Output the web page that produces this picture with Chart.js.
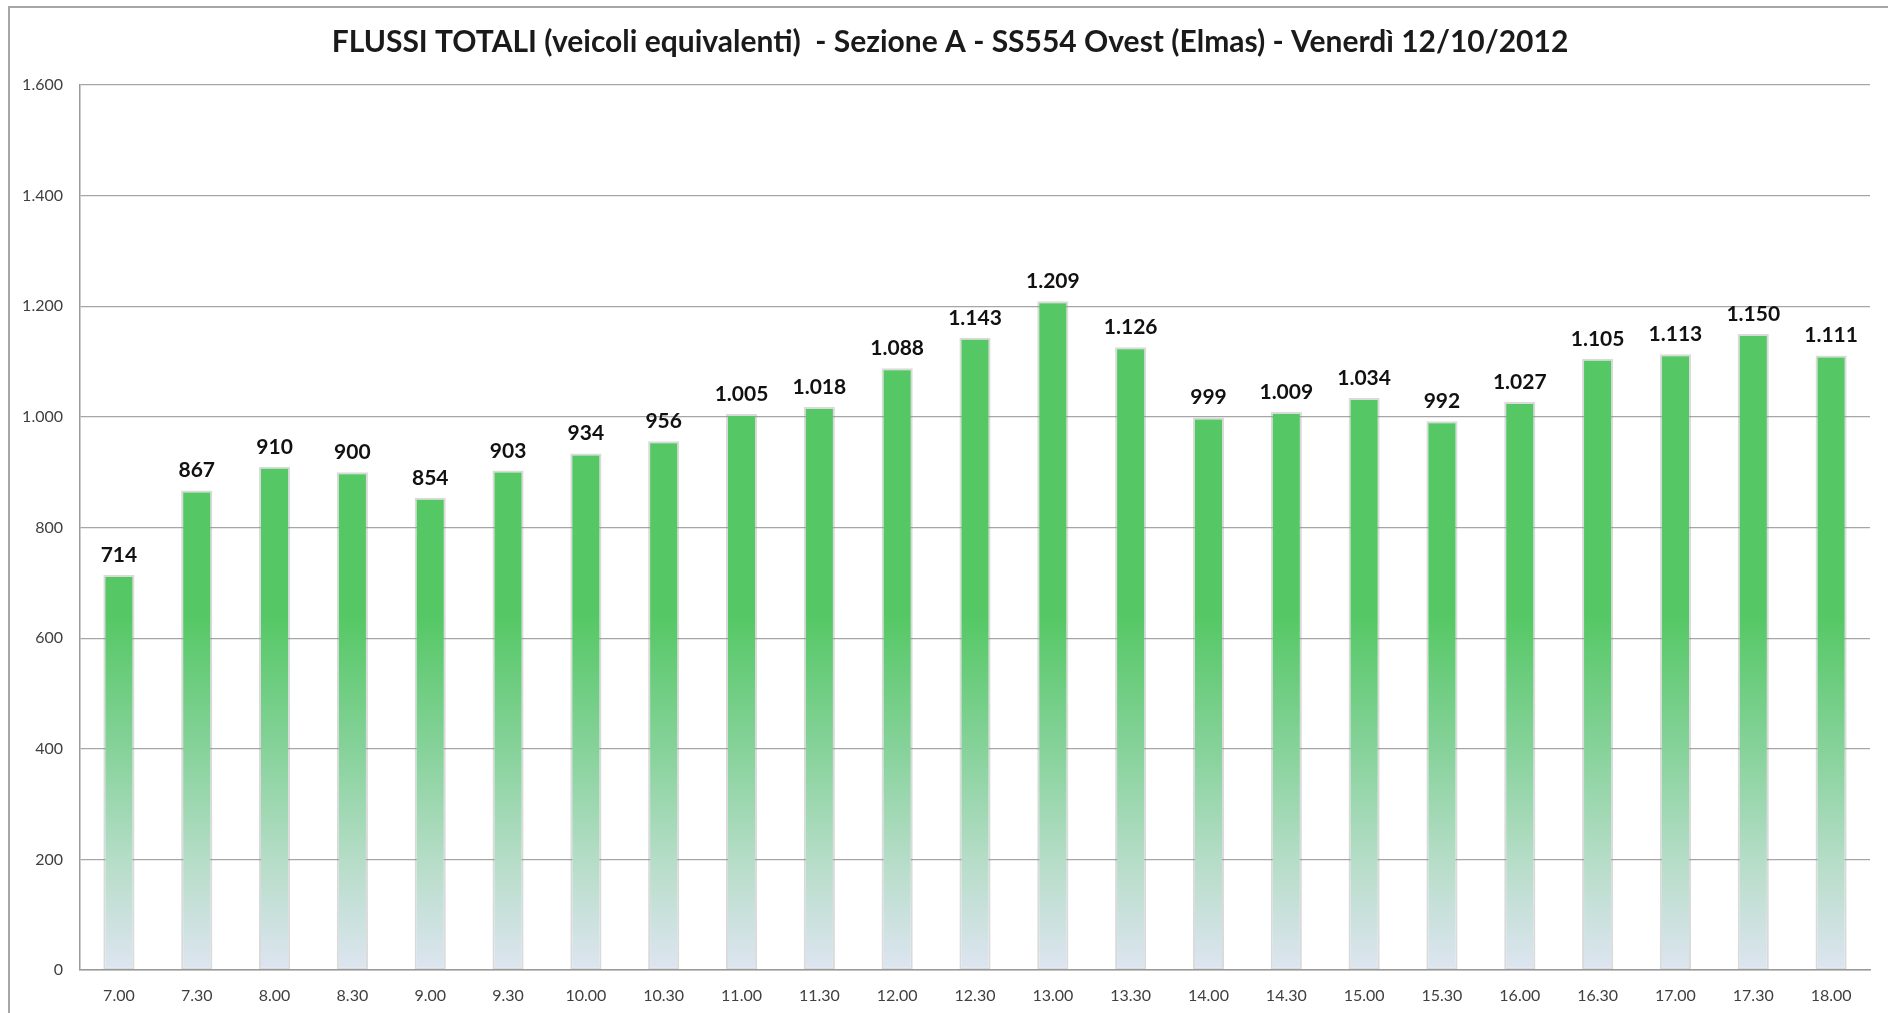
<!DOCTYPE html>
<html>
<head>
<meta charset="utf-8">
<script src="https://cdn.jsdelivr.net/npm/chart.js@4.4.1/dist/chart.umd.min.js"></script>
<style>
  html, body { margin: 0; padding: 0; background: #ffffff; }
  #wrap { position: absolute; left: 0; top: 0; width: 1888px; height: 1013px; }
</style>
</head>
<body>
<div id="wrap"><canvas id="c"></canvas></div>
<script>
const chartTitle = "FLUSSI TOTALI (veicoli equivalenti)  - Sezione A - SS554 Ovest (Elmas) - Venerdì 12/10/2012";
const categories = ["7.00","7.30","8.00","8.30","9.00","9.30","10.00","10.30","11.00","11.30","12.00","12.30","13.00","13.30","14.00","14.30","15.00","15.30","16.00","16.30","17.00","17.30","18.00"];
const flussi = [714, 867, 910, 900, 854, 903, 934, 956, 1005, 1018, 1088, 1143, 1209, 1126, 999, 1009, 1034, 992, 1027, 1105, 1113, 1150, 1111];
const yMin = 0, yMax = 1600, yStep = 200;

function fmt(v) {
  return String(Math.round(v)).replace(/\B(?=(\d{3})+(?!\d))/g, ".");
}

const framePlugin = {
  id: 'frame',
  beforeDraw(chart) {
    const ctx = chart.ctx;
    ctx.save();
    ctx.fillStyle = '#ffffff';
    ctx.fillRect(0, 0, chart.width, chart.height);
    ctx.strokeStyle = '#a6a6a6';
    ctx.lineWidth = 2;
    ctx.strokeRect(9, 7, chart.width + 50, chart.height + 50);
    // title, centred slightly right of the canvas centre as in the original
    ctx.font = 'bold 30px Lato, "Open Sans", sans-serif';
    ctx.fillStyle = '#1a1a1a';
    ctx.textAlign = 'center';
    ctx.textBaseline = 'middle';
    ctx.fillText(chartTitle, chart.width / 2 + 6, 42);
    ctx.restore();
  }
};

const labelPlugin = {
  id: 'valueLabels',
  afterDatasetsDraw(chart) {
    const ctx = chart.ctx;
    const meta = chart.getDatasetMeta(0);
    ctx.save();
    ctx.font = 'bold 21px Lato, "Open Sans", sans-serif';
    ctx.fillStyle = '#111111';
    ctx.textAlign = 'center';
    ctx.textBaseline = 'alphabetic';
    meta.data.forEach((bar, i) => {
      ctx.fillText(fmt(chart.data.datasets[0].data[i]), bar.x, bar.y - 13);
    });
    ctx.restore();
  }
};

function barGradient(context) {
  const chart = context.chart;
  const area = chart.chartArea;
  if (!area) return '#55c865';
  const g = chart.ctx.createLinearGradient(0, area.top, 0, area.bottom);
  g.addColorStop(0, '#55c865');
  g.addColorStop(0.6, '#55c865');
  g.addColorStop(0.75, '#86d29a');
  g.addColorStop(0.88, '#b7ddc9');
  g.addColorStop(1, '#dde5f1');
  return g;
}

new Chart(document.getElementById('c'), {
  type: 'bar',
  data: {
    labels: categories,
    datasets: [{
      data: flussi,
      backgroundColor: barGradient,
      borderColor: 'rgba(150,150,150,0.35)',
      borderWidth: 2,
      borderSkipped: false,
      categoryPercentage: 1,
      barPercentage: 0.4
    }]
  },
  options: {
    responsive: true,
    maintainAspectRatio: false,
    animation: false,
    layout: { padding: { left: 0, right: 18, top: 85, bottom: 0 } },
    plugins: {
      legend: { display: false },
      tooltip: { enabled: false },
      title: { display: false }
    },
    scales: {
      x: {
        grid: { display: false },
        border: { display: true, color: '#9a9a9a', width: 1.5 },
        ticks: {
          color: '#404040',
          font: { family: 'Lato, "Open Sans", sans-serif', size: 16 },
          padding: 8,
          maxRotation: 0,
          autoSkip: false
        },
        afterFit(scale) { scale.height = 43; }
      },
      y: {
        min: yMin,
        max: yMax,
        grid: { color: '#a6a6a6', lineWidth: 1.2, drawTicks: false },
        border: { display: true, color: '#9a9a9a', width: 1.5 },
        ticks: {
          stepSize: yStep,
          color: '#404040',
          font: { family: 'Lato, "Open Sans", sans-serif', size: 16 },
          padding: 17,
          callback: (v) => fmt(v)
        },
        afterFit(scale) { scale.width = 80; }
      }
    }
  },
  plugins: [framePlugin, labelPlugin]
});
</script>
</body>
</html>
